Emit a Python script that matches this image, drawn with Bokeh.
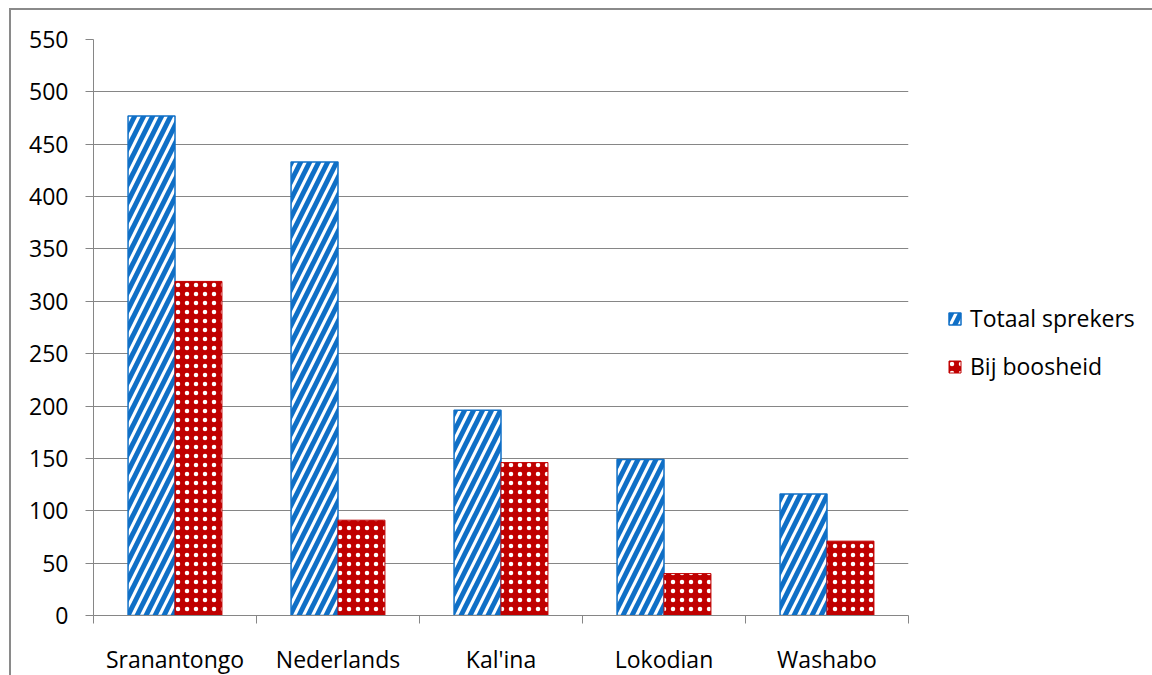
import numpy as np
from bokeh.plotting import figure
from bokeh.models import (ColumnDataSource, FixedTicker, Range1d, Legend, LegendItem)
from bokeh.embed import file_html
from bokeh.resources import INLINE

categories = ["Sranantongo", "Nederlands", "Kal'ina", "Lokodian", "Washabo"]
totaal = [477, 433, 196, 149, 116]
boosheid = [319, 91, 146, 40, 71]
y_ticks = list(range(0, 551, 50))
series_names = ["Totaal sprekers", "Bij boosheid"]

BLUE = "#0F6FC6"
RED = "#C00000"
GRID = "#868686"
FONT = "Open Sans"
FS = "23px"

idx = np.arange(len(categories)) + 0.5
src = ColumnDataSource(dict(x1=idx - 0.144, x2=idx + 0.144, t=totaal, b=boosheid))

p = figure(frame_width=815, frame_height=576, output_backend="svg", toolbar_location=None,
           x_range=Range1d(0, len(categories)), y_range=Range1d(0, 550),
           min_border_left=82, min_border_top=29, min_border_right=236, min_border_bottom=52,
           margin=(8, 0, 0, 9))
p.styles = {"border-top": "2px solid #8a8a8a", "border-left": "2px solid #8a8a8a"}
p.outline_line_color = None
p.background_fill_color = "white"
p.border_fill_color = "white"

r1 = p.vbar(x="x1", top="t", width=0.288, source=src, fill_color="white",
            line_color=BLUE, line_width=1.5, hatch_pattern="right_diagonal_line",
            hatch_color=BLUE, hatch_scale=18, hatch_weight=5)
r2 = p.vbar(x="x2", top="b", width=0.288, source=src, fill_color=RED,
            line_color=RED, line_width=1, hatch_pattern="dot",
            hatch_color="white", hatch_scale=9, hatch_weight=1)

# axes
p.xgrid.visible = False
p.ygrid.grid_line_color = GRID
p.ygrid.grid_line_width = 1
p.ygrid.ticker = FixedTicker(ticks=y_ticks)

p.yaxis.ticker = FixedTicker(ticks=y_ticks)
p.yaxis.axis_line_color = GRID
p.yaxis.major_tick_line_color = GRID
p.yaxis.major_tick_out = 8
p.yaxis.major_tick_in = 0
p.yaxis.minor_tick_line_color = None
p.yaxis.major_label_standoff = 17
p.yaxis.major_label_text_font = FONT
p.yaxis.major_label_text_font_size = FS
p.yaxis.major_label_text_color = "black"

p.xaxis.ticker = FixedTicker(ticks=list(idx), minor_ticks=list(range(len(categories) + 1)))
p.xaxis.major_label_overrides = {float(v): c for v, c in zip(idx, categories)}
p.xaxis.axis_line_color = GRID
p.xaxis.major_tick_line_color = None
p.xaxis.major_tick_out = 0
p.xaxis.major_tick_in = 0
p.xaxis.minor_tick_line_color = GRID
p.xaxis.minor_tick_out = 8
p.xaxis.minor_tick_in = 0
p.xaxis.major_label_standoff = 19
p.xaxis.major_label_text_font = FONT
p.xaxis.major_label_text_font_size = FS
p.xaxis.major_label_text_color = "black"

legend = Legend(items=[LegendItem(label=series_names[0], renderers=[r1]),
                       LegendItem(label=series_names[1], renderers=[r2])],
                location=(39, 233), orientation="vertical",
                padding=0, margin=0, spacing=16, glyph_width=15, glyph_height=15,
                label_standoff=8, border_line_color=None, background_fill_alpha=0,
                label_text_font=FONT, label_text_font_size=FS, label_text_color="black")
p.add_layout(legend, "right")

open("out.html", "w").write(file_html(p, INLINE))
